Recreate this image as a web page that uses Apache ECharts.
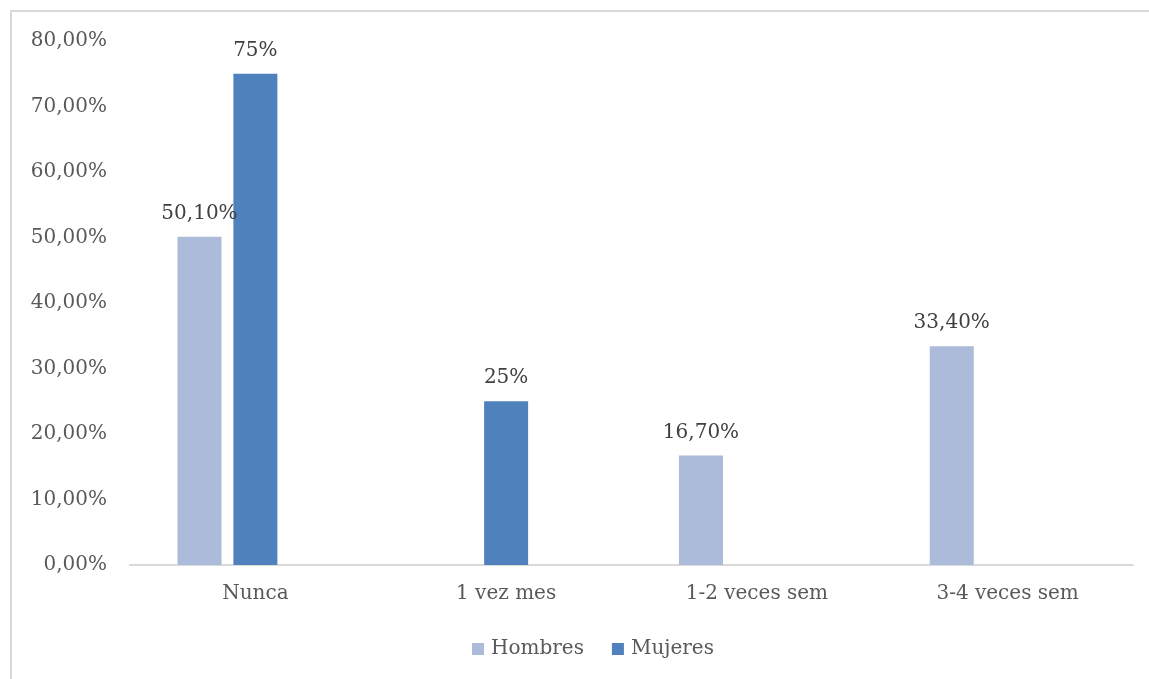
<!DOCTYPE html>
<html>
<head>
<meta charset="utf-8">
<script src="https://cdn.jsdelivr.net/npm/echarts@6/dist/echarts.min.js"></script>
<style>
html,body{margin:0;padding:0;width:1149px;height:679px;overflow:hidden;background:#fff;}
#frame{position:absolute;left:10px;top:10px;width:1200px;height:720px;border:2px solid #d9d9d9;box-sizing:border-box;}
#chart{position:absolute;left:0;top:0;width:1149px;height:679px;}
</style>
</head>
<body>
<div id="frame"></div>
<div id="chart"></div>
<script>
const categories = ['Nunca', '1 vez mes', '1-2 veces sem', '3-4 veces sem'];
const hombres = [50.1, null, 16.7, 33.4];
const mujeres = [75, 25, null, null];
const emptySeries = [null, null, null, null];
const yTicks = { min: 0, max: 80, interval: 10 };

const FONT = 'DejaVu Serif';
const chart = echarts.init(document.getElementById('chart'));
chart.setOption({
  animation: false,
  textStyle: { fontFamily: FONT },
  grid: { left: 130, right: 16, top: 41, bottom: 114, containLabel: false },
  legend: {
    data: ['Hombres', 'Mujeres'],
    top: 634,
    left: 467,
    icon: 'rect',
    itemWidth: 12,
    itemHeight: 12,
    itemGap: 28,
    textStyle: { fontFamily: FONT, fontSize: 20, color: '#595959', padding: [0, 0, 0, 2] }
  },
  xAxis: {
    type: 'category',
    data: categories,
    axisLine: { lineStyle: { color: '#d9d9d9', width: 2 } },
    axisTick: { show: false },
    axisLabel: { fontFamily: FONT, fontSize: 20, color: '#595959', margin: 19 }
  },
  yAxis: {
    type: 'value',
    min: yTicks.min, max: yTicks.max, interval: yTicks.interval,
    splitLine: { show: false },
    axisLine: { show: false },
    axisTick: { show: false },
    axisLabel: {
      fontFamily: FONT, fontSize: 20, color: '#595959', margin: 23,
      formatter: v => v.toFixed(2).replace('.', ',') + '%'
    }
  },
  series: [
    {
      name: 'Hombres', type: 'bar', data: hombres,
      barWidth: 44, barGap: '27%', barCategoryGap: '37.8%',
      itemStyle: { color: '#abbbd9' },
      label: {
        show: true, position: 'top', distance: 13,
        fontFamily: FONT, fontSize: 20, color: '#404040',
        formatter: p => p.value.toFixed(2).replace('.', ',') + '%'
      }
    },
    {
      name: 'Mujeres', type: 'bar', data: mujeres,
      barWidth: 44, barGap: '27%', barCategoryGap: '37.8%',
      itemStyle: { color: '#4f81bd' },
      label: {
        show: true, position: 'top', distance: 13,
        fontFamily: FONT, fontSize: 20, color: '#404040',
        formatter: p => Math.round(p.value) + '%'
      }
    },
    {
      name: 'empty', type: 'bar', data: emptySeries,
      barWidth: 44, barGap: '27%', barCategoryGap: '37.8%',
      itemStyle: { color: '#a5a5a5' }
    }
  ]
});
</script>
</body>
</html>
